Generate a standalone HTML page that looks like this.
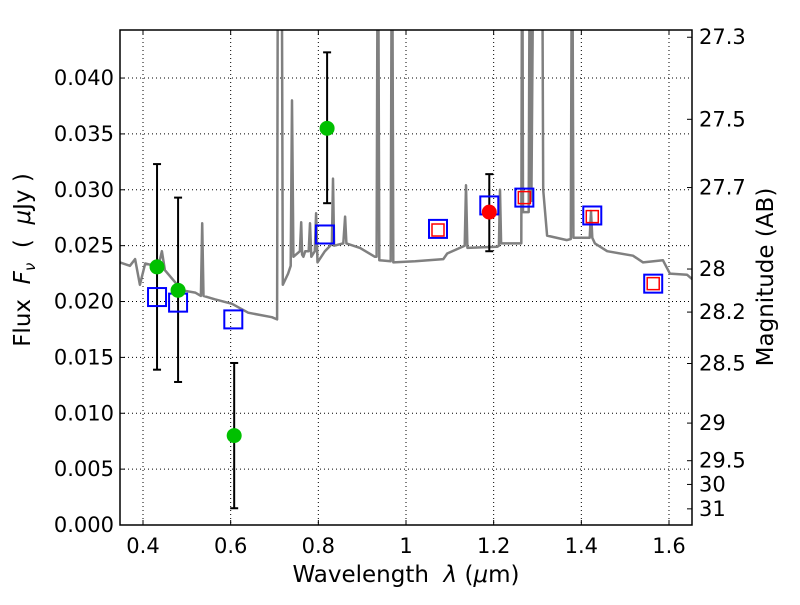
<!DOCTYPE html>
<html><head><meta charset="utf-8"><style>
body{margin:0;background:#fff;}
svg text{font-family:"DejaVu Sans","Liberation Sans",sans-serif;}
</style></head><body>
<svg id="chart" width="800" height="600" xmlns="http://www.w3.org/2000/svg"></svg>
<script>
const xTicks=[0.4,0.6,0.8,1,1.2,1.4,1.6];
const xTickLabels=["0.4","0.6","0.8","1","1.2","1.4","1.6"];
const yTicks=[0,0.005,0.01,0.015,0.02,0.025,0.03,0.035,0.04];
const yTickLabels=["0.000","0.005","0.010","0.015","0.020","0.025","0.030","0.035","0.040"];
const magTicks=[27.3,27.5,27.7,28,28.2,28.5,29,29.5,30,31];
const magLabels=["27.3","27.5","27.7","28","28.2","28.5","29","29.5","30","31"];
const specLam=[0.3475,0.370,0.382,0.393,0.405,0.427,0.439,0.443,0.450,0.489,0.519,0.532,0.535,0.538,0.564,0.603,0.640,0.694,0.706,0.708,0.716,0.719,0.731,0.737,0.740,0.743,0.758,0.761,0.763,0.766,0.770,0.778,0.781,0.784,0.792,0.795,0.798,0.815,0.827,0.831,0.8335,0.836,0.857,0.861,0.864,0.895,0.929,0.933,0.936,0.939,0.965,0.968,0.971,1.021,1.085,1.094,1.123,1.134,1.137,1.140,1.208,1.212,1.2145,1.217,1.226,1.260,1.263,1.265,1.267,1.280,1.283,1.286,1.292,1.296,1.310,1.313,1.322,1.367,1.376,1.379,1.382,1.413,1.419,1.422,1.425,1.431,1.459,1.518,1.541,1.586,1.602,1.641,1.653];
const specFlux=[0.0235,0.0232,0.0238,0.0215,0.0234,0.0232,0.0238,0.0245,0.0228,0.0210,0.0208,0.0205,0.0270,0.0205,0.0202,0.0198,0.0190,0.0186,0.0184,0.0600,0.0600,0.0215,0.0225,0.0232,0.0380,0.0240,0.0245,0.0271,0.0242,0.0240,0.0245,0.0245,0.0270,0.0240,0.0245,0.0279,0.0235,0.0245,0.0250,0.0252,0.0310,0.0250,0.0252,0.0276,0.0252,0.0248,0.0240,0.0240,0.0600,0.0237,0.0236,0.0600,0.0235,0.0236,0.0238,0.0243,0.0248,0.0250,0.0304,0.0248,0.0249,0.0250,0.0300,0.0252,0.0252,0.0252,0.0252,0.0600,0.0280,0.0280,0.0600,0.0290,0.0600,0.0600,0.0600,0.0300,0.0259,0.0255,0.0256,0.0600,0.0257,0.0257,0.0257,0.0281,0.0257,0.0252,0.0245,0.0241,0.0235,0.0237,0.0225,0.0224,0.0220];
const photLam=[0.432,0.48,0.608,0.82];
const photFlux=[0.0231,0.0210,0.0080,0.0355];
const photLo=[0.0139,0.0128,0.0015,0.0288];
const photHi=[0.0323,0.0293,0.0145,0.0423];
const redLam=[1.19];const redFlux=[0.0280];const redLo=[0.0245];const redHi=[0.0314];
const modelLam=[0.432,0.48,0.606,0.815,1.073,1.19,1.27,1.425,1.564];
const modelFlux=[0.0204,0.0199,0.0184,0.0260,0.0265,0.0286,0.0293,0.0277,0.0216];
const obsLam=[1.073,1.27,1.425,1.564];
const obsFlux=[0.0264,0.0293,0.0276,0.0216];

const L=120,R=692,T=30,B=525;
const xmin=0.3475,xmax=1.6525,ymin=0,ymax=0.0443;
const X=v=>L+(v-xmin)/(xmax-xmin)*(R-L);
const Y=v=>B-(v-ymin)/(ymax-ymin)*(B-T);
const svg=document.getElementById('chart');
const NS='http://www.w3.org/2000/svg';
function mk(tag,attrs,parent){const e=document.createElementNS(NS,tag);for(const k in attrs)e.setAttribute(k,attrs[k]);(parent||svg).appendChild(e);return e;}
const defs=mk('defs',{});const cp=mk('clipPath',{id:'clip'},defs);mk('rect',{x:L,y:T,width:R-L,height:B-T},cp);
xTicks.forEach((t,i)=>{const g=mk('line',{x1:X(t),x2:X(t),y1:T,y2:B,stroke:'#000','stroke-dasharray':'1,3','stroke-width':1});


mk('line',{x1:X(t),x2:X(t),y1:B,y2:B-5,stroke:'#000'});mk('line',{x1:X(t),x2:X(t),y1:T,y2:T+5,stroke:'#000'});
const tx=mk('text',{x:X(t),y:B+28,'font-size':21,'text-anchor':'middle'});tx.textContent=xTickLabels[i];

});
yTicks.forEach((t,i)=>{const g=mk('line',{x1:L,x2:R,y1:Y(t),y2:Y(t),stroke:'#000','stroke-dasharray':'1,3','stroke-width':1});


mk('line',{x1:L,x2:L+5,y1:Y(t),y2:Y(t),stroke:'#000'});
const tx=mk('text',{x:L-6,y:Y(t)+7,'font-size':21,'text-anchor':'end'});tx.textContent=yTickLabels[i];

});
magTicks.forEach((m,i)=>{const f=Math.pow(10,(23.9-m)/2.5);const y=Y(f);mk('line',{x1:R,x2:R-5,y1:y,y2:y,stroke:'#000'});
const tx=mk('text',{x:R+7,y:y+7,'font-size':21});tx.textContent=magLabels[i];

});
const g=mk('g',{'clip-path':'url(#clip)'});
const pts=specLam.map((l,i)=>X(l).toFixed(1)+','+Y(specFlux[i]).toFixed(1)).join(' ');
const sp=mk('polyline',{points:pts,fill:'none',stroke:'#808080','stroke-width':2.5,'stroke-linejoin':'round'},g);


function ebar(l,lo,hi){const x=X(l);mk('line',{x1:x,x2:x,y1:Y(lo),y2:Y(hi),stroke:'#000','stroke-width':2},g);
mk('line',{x1:x-4,x2:x+4,y1:Y(lo),y2:Y(lo),stroke:'#000','stroke-width':2},g);mk('line',{x1:x-4,x2:x+4,y1:Y(hi),y2:Y(hi),stroke:'#000','stroke-width':2},g);}
photLam.forEach((l,i)=>ebar(l,photLo[i],photHi[i]));
redLam.forEach((l,i)=>ebar(l,redLo[i],redHi[i]));
modelLam.forEach((l,i)=>{const r=mk('rect',{x:X(l)-9,y:Y(modelFlux[i])-9,width:18,height:18,fill:'none',stroke:'#0000ff','stroke-width':2},g);

});
obsLam.forEach((l,i)=>{const r=mk('rect',{x:X(l)-6,y:Y(obsFlux[i])-6,width:12,height:12,fill:'none',stroke:'#ff0000','stroke-width':1.5},g);

});
photLam.forEach((l,i)=>{const c=mk('circle',{cx:X(l),cy:Y(photFlux[i]),r:7.5,fill:'#00c000'},g);

});
redLam.forEach((l,i)=>{const c=mk('circle',{cx:X(l),cy:Y(redFlux[i]),r:7.5,fill:'#ff0000'},g);

});
const fr=mk('rect',{x:L,y:T,width:R-L,height:B-T,fill:'none',stroke:'#000','stroke-width':1.5});


const xl=mk('text',{x:406,y:582,'font-size':23,'text-anchor':'middle'});xl.innerHTML='Wavelength\u00a0\u00a0<tspan font-style="italic">λ</tspan> (<tspan font-style="italic">μ</tspan>m)';


const yl=mk('text',{x:0,y:0,'font-size':23,'text-anchor':'middle',transform:'translate(30,260) rotate(-90)'});yl.innerHTML='Flux\u00a0\u00a0<tspan font-style="italic">F</tspan><tspan font-style="italic" font-size="15" dy="5">ν</tspan><tspan dy="-5">\u00a0\u00a0(\u00a0\u00a0</tspan><tspan font-style="italic">μ</tspan>Jy )';


const ml=mk('text',{x:0,y:0,'font-size':23,'text-anchor':'middle',transform:'translate(773,277) rotate(-90)'});ml.textContent='Magnitude (AB)';


</script>
</body></html>
